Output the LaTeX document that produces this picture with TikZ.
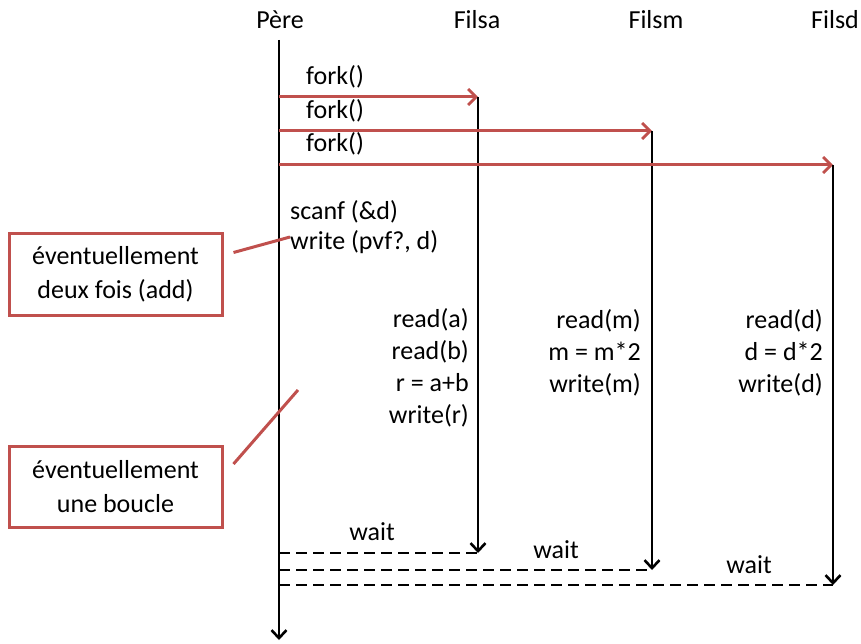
\documentclass[tikz,border=0pt]{standalone}
\usepackage{fontspec}
\setmainfont{Carlito}
\usetikzlibrary{positioning,arrows.meta}
\definecolor{forkred}{RGB}{192,80,77}
\tikzset{
  txt/.style={font=\fontsize{26}{32}\selectfont,inner sep=0pt},
  life/.style={line width=2.9pt,-{Straight Barb[length=8pt,width=15pt,line width=2.6pt]}},
  forkarr/.style={draw=forkred,line width=3pt,-{Straight Barb[length=8pt,width=16pt,line width=2.8pt]}},
  waitline/.style={line width=2.9pt,dash pattern=on 11pt off 6pt},
  note/.style={draw=forkred,line width=3pt,minimum width=213pt,minimum height=81pt,align=center,font=\fontsize{26}{34}\selectfont},
  callout/.style={forkred,line width=3pt}
}
\begin{document}
\begin{tikzpicture}[x=1pt,y=-1pt]
  \useasboundingbox (0,0) rectangle (861,644);
  % process Pere
  \node[txt] (pere) at (280,20) {Père};
  \coordinate (p0) at (279,40);
  \coordinate (p1) at (279,640);
  \draw[life] (p0)--(p1);
  % the three sons: fork, life line, wait
  \foreach \n/\x/\lx/\t/\b/\fy in {a/478/477/97/553/77, m/652/656/131/570/111, d/833/835/165/585/144}{
    \node[txt] (fils\n) at (\lx,20) {Fils\n};
    \coordinate (\n0) at (\x,\t);
    \coordinate (\n1) at (\x,\b);
    \node[txt,anchor=west] (fork\n) at (306,\fy) {fork()};
    \draw[forkarr] (p0 |- \n0)--(\n0);
    \draw[life] (\n0)--(\n1);
    \draw[waitline] (p0 |- \n1)--(\n1);
  }
  \node[txt] (waita) at (372,532) {wait};
  \node[txt] (waitm) at (556,550) {wait};
  \node[txt] (waitd) at (749,565) {wait};
  % code of each process
  \node[txt,align=left,anchor=west,font=\fontsize{26}{30}\selectfont] (codep) at (290,227) {scanf (\&d)\\write (pvf?, d)};
  \node[txt,align=right,anchor=east] (codea) at (469,368) {read(a)\\read(b)\\r = a+b\\write(r)};
  \node[txt,align=right,anchor=east] (codem) at (641,353) {read(m)\\m = m*2\\write(m)};
  \node[txt,align=right,anchor=east] (coded) at (823,353) {read(d)\\d = d*2\\write(d)};
  % remarks
  \node[note] (box1) at (115.5,274.5) {éventuellement\\deux fois (add)};
  \node[note] (box2) at (115.5,487) {éventuellement\\une boucle};
  \coordinate (c1) at (290,237);
  \coordinate (c2) at (298,390);
  \draw[callout] ([shift={(10,-22)}]box1.east)--(c1);
  \draw[callout] ([shift={(10,-23)}]box2.east)--(c2);
\end{tikzpicture}
\end{document}
